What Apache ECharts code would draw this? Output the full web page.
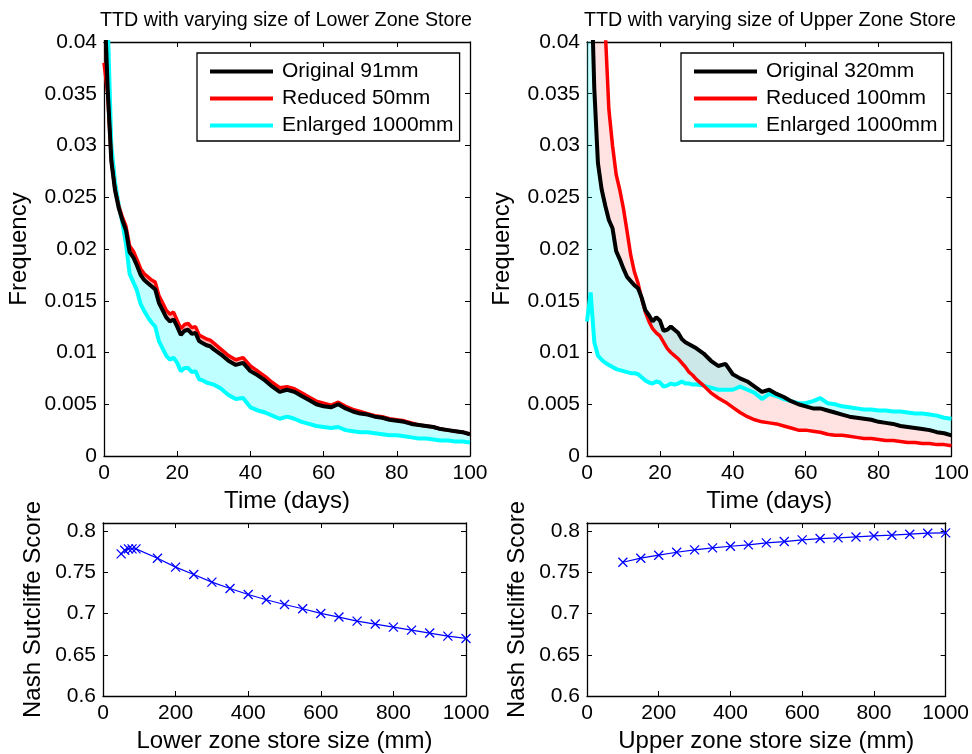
<!DOCTYPE html>
<html>
<head>
<meta charset="utf-8">
<script src="https://cdn.jsdelivr.net/npm/echarts@6/dist/echarts.min.js"></script>
<style>
  html, body { margin: 0; padding: 0; background: #fff; }
  #chart-container { width: 972px; height: 754px; }
</style>
</head>
<body>
<div id="chart-container"></div>
<script>
let dom = document.getElementById('chart-container');
let myChart = echarts.init(dom, null, { renderer: 'canvas', useDirtyRect: false });

// time axis of the TTD panels (days)
const days = [0, 1, 2, 3, 4, 5, 6, 7, 8, 9, 10, 11, 12, 13, 14, 15, 16, 17, 18, 19, 20,
	21, 22, 23, 24, 25, 26, 27, 28, 29, 30, 32, 34, 36, 38, 40, 42, 44, 46, 48, 50,
	52, 54, 56, 58, 60, 62, 64, 66, 68, 70, 72, 74, 76, 78, 80, 82, 84, 86, 88, 90,
	92, 94, 96, 98, 100];

// lower zone store: original 91mm, reduced 50mm, enlarged 1000mm
const lowerOriginal = [0.045, 0.0355, 0.0285, 0.0257, 0.0240, 0.0228, 0.0218, 0.0197, 0.0192, 0.0184, 0.0175,
	0.0170, 0.0167, 0.0164, 0.0161, 0.0148, 0.0141, 0.0134, 0.0130, 0.0132, 0.0125,
	0.0117, 0.0121, 0.0122, 0.0118, 0.0119, 0.0111, 0.0109, 0.0107, 0.0106, 0.0103,
	0.0098, 0.0092, 0.0088, 0.0090, 0.0082, 0.0078, 0.0073, 0.0067, 0.0062, 0.0064,
	0.0062, 0.0058, 0.0054, 0.0050, 0.0048, 0.0047, 0.0050, 0.0046, 0.0043, 0.0041,
	0.0040, 0.0038, 0.0037, 0.0035, 0.0034, 0.0033, 0.0031, 0.0030, 0.0029, 0.0028,
	0.0026, 0.0025, 0.0024, 0.0023, 0.0021];
const lowerReduced = [0.038, 0.035, 0.0286, 0.0258, 0.0242, 0.0231, 0.0222, 0.0203, 0.0198, 0.0190, 0.0181,
	0.0176, 0.0173, 0.0170, 0.0168, 0.0155, 0.0148, 0.0141, 0.0137, 0.0139, 0.0131,
	0.0123, 0.0127, 0.0128, 0.0124, 0.0125, 0.0117, 0.0115, 0.0113, 0.0112, 0.0109,
	0.0103, 0.0097, 0.0093, 0.0095, 0.0087, 0.0082, 0.0077, 0.0071, 0.0066, 0.0067,
	0.0065, 0.0061, 0.0057, 0.0053, 0.0051, 0.0049, 0.0052, 0.0048, 0.0045, 0.0043,
	0.0041, 0.0039, 0.0038, 0.0036, 0.0035, 0.0034, 0.0032, 0.0030, 0.0029, 0.0028,
	0.0026, 0.0025, 0.0024, 0.0023, 0.0021];
const lowerEnlarged = [0.065, 0.042, 0.0300, 0.0265, 0.0243, 0.0226, 0.0205, 0.0176, 0.0168, 0.0160, 0.0147,
	0.0140, 0.0134, 0.0129, 0.0125, 0.0111, 0.0104, 0.0097, 0.0093, 0.0095, 0.0090,
	0.0082, 0.0085, 0.0085, 0.0081, 0.0082, 0.0074, 0.0073, 0.0071, 0.0070, 0.0069,
	0.0065, 0.0059, 0.0055, 0.0056, 0.0047, 0.0044, 0.0042, 0.0039, 0.0036, 0.0038,
	0.0036, 0.0033, 0.0031, 0.0029, 0.0028, 0.0027, 0.0028, 0.0025, 0.0024, 0.0023,
	0.0023, 0.0022, 0.0021, 0.0020, 0.0020, 0.0019, 0.0018, 0.0017, 0.0017, 0.0016,
	0.0015, 0.0015, 0.0014, 0.0014, 0.0013];

// upper zone store: original 320mm, reduced 100mm, enlarged 1000mm
const upperOriginal = [0.070, 0.048, 0.0355, 0.0283, 0.0258, 0.0242, 0.0228, 0.0220, 0.0198, 0.0190, 0.0181,
	0.0173, 0.0169, 0.0165, 0.0162, 0.0153, 0.0141, 0.0136, 0.0130, 0.0134, 0.0131,
	0.0121, 0.0122, 0.0125, 0.0122, 0.0119, 0.0113, 0.0110, 0.0108, 0.0106, 0.0104,
	0.0099, 0.0092, 0.0087, 0.0089, 0.0079, 0.0075, 0.0072, 0.0067, 0.0062, 0.0064,
	0.0060, 0.0057, 0.0053, 0.0050, 0.0048, 0.0046, 0.0046, 0.0044, 0.0042, 0.0040,
	0.0038, 0.0037, 0.0036, 0.0035, 0.0033, 0.0032, 0.0031, 0.0029, 0.0028, 0.0027,
	0.0026, 0.0025, 0.0023, 0.0022, 0.0020];
const upperReduced = [0.090, 0.075, 0.062, 0.053, 0.048, 0.0412, 0.0335, 0.0300, 0.0272, 0.0257, 0.0239,
	0.0217, 0.0194, 0.0178, 0.0167, 0.0152, 0.0139, 0.0130, 0.0123, 0.0119, 0.0116,
	0.0110, 0.0104, 0.0100, 0.0097, 0.0094, 0.0090, 0.0086, 0.0081, 0.0078, 0.0074,
	0.0068, 0.0061, 0.0056, 0.0052, 0.0047, 0.0042, 0.0038, 0.0035, 0.0033, 0.0032,
	0.0031, 0.0029, 0.0027, 0.0025, 0.0025, 0.0024, 0.0023, 0.0021, 0.0020, 0.0020,
	0.0019, 0.0018, 0.0017, 0.0017, 0.0016, 0.0015, 0.0015, 0.0014, 0.0013, 0.0013,
	0.0012, 0.0012, 0.0011, 0.0011, 0.0010];
const upperEnlarged = [0.0130, 0.0158, 0.0110, 0.0097, 0.0093, 0.0090, 0.0088, 0.0086, 0.0084, 0.0083, 0.0082,
	0.0081, 0.0080, 0.0080, 0.0079, 0.0076, 0.0073, 0.0071, 0.0070, 0.0072, 0.0071,
	0.0067, 0.0068, 0.0070, 0.0069, 0.0070, 0.0072, 0.0070, 0.0070, 0.0069, 0.0069,
	0.0068, 0.0066, 0.0064, 0.0064, 0.0064, 0.0067, 0.0064, 0.0061, 0.0055, 0.0060,
	0.0058, 0.0055, 0.0053, 0.0051, 0.0051, 0.0053, 0.0056, 0.0051, 0.0050, 0.0048,
	0.0047, 0.0046, 0.0045, 0.0045, 0.0044, 0.0044, 0.0043, 0.0043, 0.0042, 0.0041,
	0.0041, 0.0040, 0.0039, 0.0037, 0.0036];

// Nash Sutcliffe scores against store size (mm)
const lowerSizes = [50, 60, 70, 80, 91, 150, 200, 250, 300, 350, 400, 450, 500, 550, 600, 650, 700, 750, 800, 850, 900, 950, 1000];
const lowerNse = [0.7725, 0.7770, 0.7786, 0.7786, 0.7786, 0.7673, 0.7564, 0.7475, 0.7382, 0.7305, 0.7232, 0.7168,
	0.7111, 0.7059, 0.7002, 0.6958, 0.6909, 0.6873, 0.6836, 0.6800, 0.6764, 0.6727, 0.6699];
const upperSizes = [100, 150, 200, 250, 300, 350, 400, 450, 500, 550, 600, 650, 700, 750, 800, 850, 900, 950, 1000];
const upperNse = [0.7624, 0.7673, 0.7709, 0.7745, 0.7774, 0.7798, 0.7818, 0.7834, 0.7859, 0.7875, 0.7895, 0.7911,
	0.7919, 0.7931, 0.7943, 0.7952, 0.7964, 0.7976, 0.7980];

const FONT = "'Liberation Sans', Arial, Helvetica, sans-serif";
const CYAN = '#00ffff';
const RED = '#ff0000';

function pairs(xs, ys) {
	return xs.map((x, i) => [x, ys[i]]);
}

// shaded band between two curves (stands in for the family of intermediate runs)
function band(ax, low, high, color) {
	const rows = days.map((d, i) => [d, low[i], high[i]]);
	return {
		type: 'custom', xAxisIndex: ax, yAxisIndex: ax, silent: true, z: 1,
		data: rows,
		encode: { x: 0, y: [1, 2] },
		renderItem: function (params, api) {
			if (params.dataIndex !== 0) return null;
			const pts = rows.map(r => api.coord([r[0], r[1]]))
				.concat(rows.slice().reverse().map(r => api.coord([r[0], r[2]])));
			const cs = params.coordSys;
			return {
				type: 'polygon',
				shape: { points: pts },
				style: { fill: color },
				clipPath: { type: 'rect', shape: { x: cs.x, y: cs.y, width: cs.width, height: cs.height } },
			};
		},
	};
}

function curve(ax, name, ys, color, width) {
	return {
		name: name, type: 'line', xAxisIndex: ax, yAxisIndex: ax,
		data: pairs(days, ys), symbol: 'none', z: 3,
		lineStyle: { color: color, width: width },
		itemStyle: { color: color },
		emphasis: { disabled: true },
	};
}

const axisLine = { show: true, onZero: false, lineStyle: { color: '#000', width: 1.3 } };
const axisTick = { show: true, inside: true, length: 5, lineStyle: { color: '#000', width: 1 } };

function xAxes(grid, min, max, interval, name, gap) {
	return [
		{
			type: 'value', gridIndex: grid, position: 'bottom', min: min, max: max, interval: interval,
			name: name, nameLocation: 'middle', nameGap: gap,
			nameTextStyle: { fontFamily: FONT, fontSize: 24, color: '#000' },
			axisLine: axisLine, axisTick: axisTick, splitLine: { show: false },
			axisLabel: { fontFamily: FONT, fontSize: 21, color: '#000', margin: 7, formatter: v => String(v) },
		},
		{
			type: 'value', gridIndex: grid, position: 'top', min: min, max: max, interval: interval,
			axisLine: axisLine, axisTick: axisTick, splitLine: { show: false },
			axisLabel: { show: false },
		},
	];
}

function yAxes(grid, min, max, interval, name, gap, showMax) {
	return [
		{
			type: 'value', gridIndex: grid, position: 'left', min: min, max: max, interval: interval,
			name: name, nameLocation: 'middle', nameGap: gap,
			nameTextStyle: { fontFamily: FONT, fontSize: 24, color: '#000' },
			axisLine: axisLine, axisTick: axisTick, splitLine: { show: false },
			axisLabel: { fontFamily: FONT, fontSize: 21, color: '#000', margin: 7, showMaxLabel: showMax },
		},
		{
			type: 'value', gridIndex: grid, position: 'right', min: min, max: max, interval: interval,
			axisLine: axisLine, axisTick: axisTick, splitLine: { show: false },
			axisLabel: { show: false },
		},
	];
}

function legend(left, names) {
	return {
		orient: 'vertical', left: left, top: 53,
		data: names, selectedMode: false, icon: 'rect',
		backgroundColor: '#fff', borderColor: '#000', borderWidth: 1.3,
		padding: [8, 6, 5, 13], itemGap: 6, itemWidth: 63, itemHeight: 4,
		textStyle: { fontFamily: FONT, fontSize: 21, color: '#000', padding: [0, 0, 0, 4] },
	};
}

function nseSeries(ax, xs, ys) {
	return {
		type: 'line', xAxisIndex: ax, yAxisIndex: ax, data: pairs(xs, ys),
		symbol: 'path://M0,0L10,10M0,10L10,0', symbolSize: 9, showAllSymbol: true,
		lineStyle: { color: '#0000ff', width: 1.2 },
		itemStyle: { color: 'transparent', borderColor: '#0000ff', borderWidth: 1.3 },
		emphasis: { disabled: true },
	};
}

let option = {
	animation: false,
	backgroundColor: '#fff',
	graphic: [
		{
			type: 'text', x: 286, y: 21,
			style: { text: 'TTD with varying size of Lower Zone Store', fontFamily: FONT, fontSize: 19.7, fill: '#000', align: 'center', verticalAlign: 'middle' },
		},
		{
			type: 'text', x: 770, y: 21,
			style: { text: 'TTD with varying size of Upper Zone Store', fontFamily: FONT, fontSize: 19.7, fill: '#000', align: 'center', verticalAlign: 'middle' },
		},
	],
	legend: [
		legend(197, ['Original 91mm', 'Reduced 50mm', 'Enlarged 1000mm']),
		legend(681, ['Original 320mm', 'Reduced 100mm', 'Enlarged 1000mm']),
	],
	grid: [
		{ left: 104, top: 42, width: 366, height: 414 },
		{ left: 587, top: 42, width: 366, height: 414 },
		{ left: 103, top: 523, width: 363, height: 174 },
		{ left: 587, top: 523, width: 361, height: 174 },
	],
	xAxis: [].concat(
		xAxes(0, 0, 100, 20, 'Time (days)', 29),
		xAxes(1, 0, 100, 20, 'Time (days)', 29),
		xAxes(2, 0, 1000, 200, 'Lower zone store size (mm)', 33),
		xAxes(3, 0, 1000, 200, 'Upper zone store size (mm)', 33)
	),
	yAxis: [].concat(
		yAxes(0, 0, 0.04, 0.005, 'Frequency', 73, true),
		yAxes(1, 0, 0.04, 0.005, 'Frequency', 73, true),
		yAxes(2, 0.6, 0.81, 0.05, 'Nash Sutcliffe Score', 58, false),
		yAxes(3, 0.6, 0.81, 0.05, 'Nash Sutcliffe Score', 58, false)
	),
	series: [
		band(0, lowerEnlarged, lowerOriginal, 'rgba(0,255,255,0.25)'),
		band(0, lowerOriginal, lowerReduced, 'rgba(255,40,40,0.35)'),
		curve(0, 'Enlarged 1000mm', lowerEnlarged, CYAN, 4),
		curve(0, 'Reduced 50mm', lowerReduced, RED, 3.5),
		curve(0, 'Original 91mm', lowerOriginal, '#000', 4),
		band(2, upperOriginal, upperReduced, 'rgba(255,40,40,0.13)'),
		band(2, upperEnlarged, upperOriginal, 'rgba(0,255,255,0.2)'),
		curve(2, 'Enlarged 1000mm', upperEnlarged, CYAN, 4),
		curve(2, 'Reduced 100mm', upperReduced, RED, 3.5),
		curve(2, 'Original 320mm', upperOriginal, '#000', 4),
		nseSeries(4, lowerSizes, lowerNse),
		nseSeries(6, upperSizes, upperNse),
	],
};

if (option && typeof option === 'object') {
	myChart.setOption(option);
}
window.addEventListener('resize', myChart.resize);
</script>
</body>
</html>
